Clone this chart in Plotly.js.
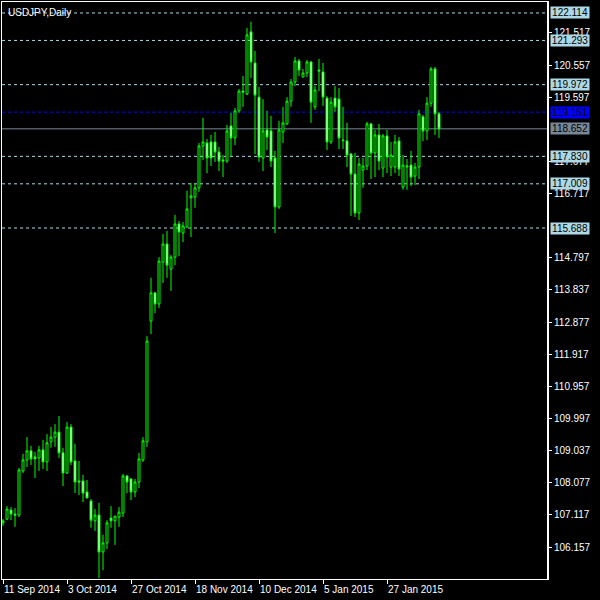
<!DOCTYPE html>
<html>
<head>
<meta charset="utf-8">
<script src="https://cdn.plot.ly/plotly-3.0.1.min.js"></script>
<style>html,body{margin:0;padding:0;background:#000;}#chart{width:600px;height:600px;}</style>
</head>
<body>
<div id="chart"></div>
<script>
const symbolTitle = "USDJPY,Daily";
const opens = [106.88,106.99,107.26,107.14,107.11,108.43,108.76,109.03,108.85,108.82,
109.06,108.70,109.30,109.44,109.59,108.97,108.37,109.74,108.73,108.13,
108.13,107.80,107.53,106.94,107.11,106.01,106.28,107.02,106.94,107.05,
107.17,108.28,108.19,107.80,108.10,108.76,109.30,112.91,113.75,113.42,
114.67,115.21,114.46,114.82,115.81,115.54,115.72,116.59,116.62,116.89,
118.14,118.23,118.26,118.26,117.96,117.72,117.69,118.74,118.38,119.19,
119.78,119.69,121.55,120.62,119.60,117.78,118.62,118.59,117.78,116.32,
118.56,118.80,119.48,120.05,120.68,120.20,120.32,120.65,119.31,120.41,
120.35,119.57,118.26,119.57,119.54,118.32,118.29,117.90,117.30,116.14,
117.42,117.54,118.80,117.93,118.47,117.48,118.44,117.51,117.51,118.29,
116.91,117.51,117.57,117.24,117.51,119.01,118.59,119.42,120.44,119.10];
const highs = [106.99,107.38,107.35,107.32,108.52,108.94,109.44,109.18,109.00,109.18,
109.36,109.53,109.74,109.83,110.07,109.12,109.89,109.83,109.24,108.73,
108.31,108.16,107.59,107.29,107.47,106.52,106.96,107.38,107.08,107.35,
108.34,108.30,108.21,108.19,108.97,109.44,112.46,114.20,113.78,114.82,
115.51,115.60,114.88,116.08,115.90,115.87,116.80,117.03,117.03,118.23,
118.98,118.35,118.47,118.56,118.11,117.87,118.77,119.13,119.28,119.84,
120.23,121.67,121.85,120.98,119.90,119.54,119.19,119.04,117.99,118.89,
119.31,119.60,120.14,120.80,120.74,120.44,120.71,120.68,119.93,120.74,
120.62,119.63,119.60,119.93,119.87,119.31,118.83,117.93,117.93,117.78,
117.78,118.86,118.82,118.62,118.80,118.50,118.62,118.26,118.47,118.41,
117.87,117.75,117.99,117.63,119.22,119.07,119.60,120.50,120.50,119.16];
const lows = [106.79,106.96,106.96,106.76,107.05,108.37,108.55,108.61,108.22,108.43,
108.49,108.43,109.12,109.15,108.82,107.98,108.34,108.61,107.77,107.71,
107.50,107.62,106.73,106.64,105.23,105.47,106.10,106.73,106.22,106.76,
107.05,107.77,107.56,107.65,107.92,108.70,109.15,112.52,113.15,113.30,
114.05,114.20,113.81,114.58,114.85,115.27,115.70,115.42,116.29,116.77,
117.72,117.33,117.54,117.66,117.39,117.21,117.63,117.81,118.17,119.13,
119.31,119.66,120.17,117.90,117.66,117.39,118.02,117.51,115.54,116.26,
118.23,118.77,119.31,119.93,120.23,120.19,120.20,118.83,119.22,119.78,
119.34,118.02,118.20,119.16,118.05,118.05,117.51,116.05,116.02,115.93,
116.89,117.42,117.15,117.21,117.42,117.21,117.33,117.24,117.33,117.24,
116.83,116.83,116.94,116.97,117.15,118.29,118.32,119.31,118.47,118.38];
const closes = [106.94,107.29,107.14,107.11,108.46,108.76,109.03,108.79,108.79,109.06,
108.70,109.27,109.44,109.59,108.97,108.37,109.74,108.70,108.10,108.10,
107.77,107.62,106.96,107.11,106.01,106.28,106.88,106.94,107.08,107.20,
108.28,108.10,107.80,108.10,108.79,109.33,112.31,113.75,113.42,114.70,
115.21,114.58,114.82,115.81,115.57,115.75,116.26,116.65,116.89,118.14,
118.26,117.78,117.78,117.96,117.69,117.69,118.59,118.38,119.19,119.78,
119.75,121.46,120.65,119.66,117.81,118.59,118.41,117.69,116.32,118.62,
118.83,119.48,120.05,120.68,120.41,120.32,120.65,119.45,119.81,120.38,
119.60,118.26,119.45,119.31,118.38,118.30,117.87,117.30,116.14,117.60,
117.54,118.80,117.93,118.47,117.69,118.44,117.81,117.87,118.26,117.45,
117.57,117.54,117.21,117.51,119.10,118.59,119.42,120.44,119.10,118.65];

const dateTickBars = [0, 16, 32, 48, 64, 80, 96];
const dateTickLabels = ["11 Sep 2014", "3 Oct 2014", "27 Oct 2014", "18 Nov 2014", "10 Dec 2014", "5 Jan 2015", "27 Jan 2015"];
const priceTicks = [106.157,107.117,108.077,109.037,109.997,110.957,111.917,112.877,113.837,114.797,116.717,117.677,119.597,120.557,121.517];

const levelLines = [122.114, 121.293, 119.972, 117.830, 117.009, 115.688];
const blueLevel = 119.151;
const bidLevel = 118.652;

const barIndex = opens.map((_, i) => i);

const trace = {
  type: 'candlestick',
  x: barIndex,
  open: opens, high: highs, low: lows, close: closes,
  increasing: {line: {color: '#00ff00', width: 1}, fillcolor: '#000000'},
  decreasing: {line: {color: '#00ff00', width: 1}, fillcolor: '#ffffff'},
  whiskerwidth: 0,
  hoverinfo: 'skip'
};

const lightBlue = '#add8e6';
const labelFont = {family: 'Liberation Sans', size: 10, color: '#000000'};
const shapes = [];
const annotations = [];
function levelBox(v, bg) {
  annotations.push({xref: 'paper', yref: 'y', x: 1, y: v, xanchor: 'left', yanchor: 'middle', xshift: 2,
    text: v.toFixed(3), showarrow: false, bgcolor: bg, width: 38, height: 11, borderpad: 0, font: labelFont});
}
levelLines.forEach(v => {
  shapes.push({type: 'line', xref: 'paper', yref: 'y', x0: 0, x1: 1, y0: v, y1: v,
    line: {color: lightBlue, width: 1, dash: '3px,3px'}, layer: 'below'});
  levelBox(v, lightBlue);
});
shapes.push({type: 'line', xref: 'paper', yref: 'y', x0: 0, x1: 1, y0: blueLevel, y1: blueLevel,
  line: {color: '#0000ff', width: 1, dash: '3px,3px'}, layer: 'below'});
levelBox(blueLevel, '#0000ff');
shapes.push({type: 'line', xref: 'paper', yref: 'y', x0: 0, x1: 1, y0: bidLevel, y1: bidLevel,
  line: {color: '#778899', width: 1}, layer: 'below'});
levelBox(bidLevel, '#778899');

annotations.push({xref: 'paper', yref: 'paper', x: 0, y: 1, xanchor: 'left', yanchor: 'top', xshift: 4, yshift: -3,
  text: symbolTitle, showarrow: false, font: {family: 'Liberation Sans', size: 10, color: '#ffffff'}});

dateTickBars.forEach((b, i) => {
  annotations.push({xref: 'x', yref: 'paper', x: b, y: 0, xanchor: 'left', yanchor: 'top', xshift: -1, yshift: -3,
    text: dateTickLabels[i], showarrow: false, font: {family: 'Liberation Sans', size: 10, color: '#ffffff'}});
});

shapes.push({type: 'line', xref: 'paper', yref: 'paper', x0: 1, x1: 1, y0: 0, y1: 1,
  line: {color: '#ffffff', width: 2}});

const layout = {
  width: 600, height: 600,
  margin: {l: 2, r: 52, t: 2, b: 21, pad: 0},
  paper_bgcolor: '#000000', plot_bgcolor: '#000000',
  showlegend: false,
  xaxis: {
    range: [-0.25, 136.25], rangeslider: {visible: false}, fixedrange: true,
    tickmode: 'array', tickvals: dateTickBars, showticklabels: false,
    ticks: 'outside', ticklen: 4, tickcolor: '#ffffff', tickwidth: 1,
    showgrid: false, zeroline: false, showline: true, linecolor: '#ffffff', linewidth: 1, mirror: true
  },
  yaxis: {
    side: 'right', range: [105.201, 122.442], fixedrange: true,
    tickmode: 'array', tickvals: priceTicks, ticktext: priceTicks.map(v => v.toFixed(3)),
    ticks: 'outside', ticklen: 3, tickcolor: '#ffffff', tickwidth: 1,
    tickfont: {family: 'Liberation Sans', size: 10, color: '#ffffff'},
    showgrid: false, zeroline: false, showline: true, linecolor: '#ffffff', linewidth: 1, mirror: true
  },
  shapes: shapes,
  annotations: annotations
};

Plotly.newPlot('chart', [trace], layout, {displayModeBar: false, staticPlot: true});
</script>
</body>
</html>
